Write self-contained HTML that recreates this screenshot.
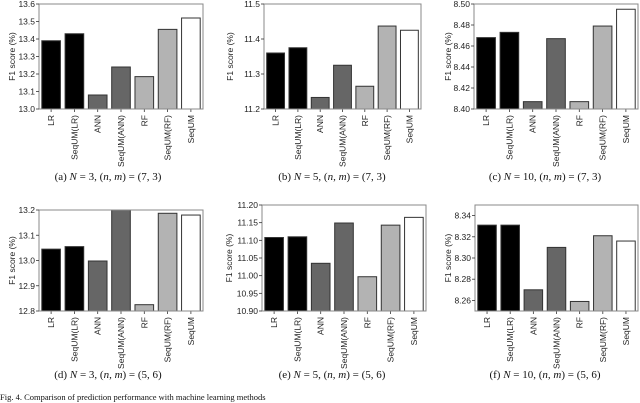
<!DOCTYPE html>
<html><head><meta charset="utf-8"><style>
body{margin:0;background:#fff;width:640px;height:403px;overflow:hidden}
svg{display:block}
.tk{font-family:"Liberation Sans",sans-serif;font-size:8.5px;fill:#222}
.cap{font-family:"Liberation Serif",serif;font-size:11px;fill:#111}
.fig{font-family:"Liberation Serif",serif;font-size:8.5px;fill:#111}
</style></head><body>
<svg id="chart" width="640" height="403" viewBox="0 0 640 403" xmlns="http://www.w3.org/2000/svg">
<text class="fig" x="0" y="400">Fig. 4.  Comparison of prediction performance with machine learning methods</text>
</svg>
<script>
const categories = ["LR","SeqUM(LR)","ANN","SeqUM(ANN)","RF","SeqUM(RF)","SeqUM"];
const colors = ["#000","#000","#666","#666","#b3b3b3","#b3b3b3","#fff"];
const valuesA = [13.39,13.43,13.08,13.24,13.185,13.455,13.52];
const valuesB = [11.36,11.375,11.233,11.325,11.265,11.437,11.425];
const valuesC = [8.468,8.473,8.407,8.467,8.407,8.479,8.495];
const valuesD = [13.045,13.055,12.998,13.2,12.825,13.187,13.18];
const valuesE = [11.108,11.110,11.035,11.149,10.997,11.143,11.165];
const valuesF = [8.331,8.331,8.270,8.310,8.259,8.321,8.316];
const ticksA = ["13.0","13.1","13.2","13.3","13.4","13.5","13.6"];
const ticksB = ["11.2","11.3","11.4","11.5"];
const ticksC = ["8.40","8.42","8.44","8.46","8.48","8.50"];
const ticksD = ["12.8","12.9","13.0","13.1","13.2"];
const ticksE = ["10.90","10.95","11.00","11.05","11.10","11.15","11.20"];
const ticksF = ["8.26","8.28","8.30","8.32","8.34"];
const captions = ["(a)","(b)","(c)","(d)","(e)","(f)"];
const capN = ["3","5","10","3","5","10"];
const capNM = ["(7, 3)","(7, 3)","(7, 3)","(5, 6)","(5, 6)","(5, 6)"];

const panels = [
 {v:valuesA,t:ticksA,l:39,r:203,top:4,b:109,lo:13.0,hi:13.6,yt:12,cx:108,cy:180},
 {v:valuesB,t:ticksB,l:264,r:421,top:4,b:109,lo:11.2,hi:11.5,yt:230,cx:332,cy:180},
 {v:valuesC,t:ticksC,l:474,r:638,top:4,b:109,lo:8.40,hi:8.50,yt:448,cx:545,cy:180},
 {v:valuesD,t:ticksD,l:39,r:203,top:210,b:311,lo:12.8,hi:13.2,yt:12,cx:108,cy:378},
 {v:valuesE,t:ticksE,l:262,r:426,top:205,b:311,lo:10.90,hi:11.20,yt:229,cx:332,cy:378},
 {v:valuesF,t:ticksF,l:475,r:638,top:205,b:311,lo:8.25,hi:8.35,yt:448,cx:545,cy:378}
];
const svg = document.getElementById('chart');
const NS = "http://www.w3.org/2000/svg";
function mk(tag, attrs){const e=document.createElementNS(NS,tag);for(const k in attrs)e.setAttribute(k,attrs[k]);svg.appendChild(e);return e;}
panels.forEach((p,pi)=>{
  const y = v => p.b - (v-p.lo)/(p.hi-p.lo)*(p.b-p.top);
  const n = categories.length;
  const slot = (p.r-p.l)/(n+0.04);
  const xc = i => p.l + slot*(i+0.52);
  p.v.forEach((val,i)=>{
    const bw = slot*0.8;
    const yy = Math.max(y(val),p.top);
    const r = mk('rect',{x:xc(i)-bw/2,y:yy,width:bw,height:p.b-yy,fill:colors[i],stroke:"#333","stroke-width":1});
    
    
    const t = mk('text',{class:"tk",transform:`translate(${xc(i)+3},${p.b+6}) rotate(-90)`,"text-anchor":"end"});
    t.textContent = categories[i];
    
    
    mk('line',{x1:xc(i),x2:xc(i),y1:p.b,y2:p.b+3,stroke:"#333","stroke-width":0.8});
  });
  const fr = mk('rect',{x:p.l,y:p.top,width:p.r-p.l,height:p.b-p.top,fill:"none",stroke:"#888","stroke-width":1});
  
  
  p.t.forEach(s=>{
    const yy = y(parseFloat(s));
    mk('line',{x1:p.l-3,x2:p.l,y1:yy,y2:yy,stroke:"#333","stroke-width":0.8});
    const t = mk('text',{class:"tk",x:p.l-4,y:yy+3,"text-anchor":"end"});
    t.textContent = s;
    
    
  });
  const yt = mk('text',{class:"tk",transform:`translate(${p.yt+3},${(p.top+p.b)/2}) rotate(-90)`,"text-anchor":"middle"});
  yt.textContent = "F1 score (%)";
  
  
  const c = mk('text',{class:"cap",x:p.cx,y:p.cy,"text-anchor":"middle"});
  c.innerHTML = `${captions[pi]} <tspan font-style="italic">N</tspan> = ${capN[pi]}, (<tspan font-style="italic">n, m</tspan>) = ${capNM[pi]}`;
  
  
});
</script>
</body></html>
